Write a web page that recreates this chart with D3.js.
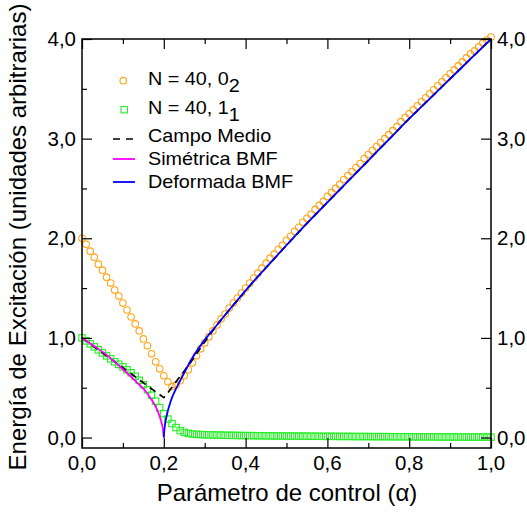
<!DOCTYPE html>
<html><head><meta charset="utf-8">
<script src="https://cdn.jsdelivr.net/npm/d3@7"></script>
<style>body{margin:0;background:#fff} svg{display:block} text{font-family:"Liberation Sans",Arial,sans-serif;fill:#000}</style>
</head><body><svg id="c" width="527" height="512"></svg>
<script>
// control parameter grid of the N = 40 calculations
const alphaN40 = [0.00,0.01,0.02,0.03,0.04,0.05,0.06,0.07,0.08,0.09,0.10,0.11,0.12,0.13,0.14,0.15,0.16,0.17,0.18,0.19,0.20,0.21,0.22,0.23,0.24,0.25,0.26,0.27,0.28,0.29,0.30,0.31,0.32,0.33,0.34,0.35,0.36,0.37,0.38,0.39,0.40,0.41,0.42,0.43,0.44,0.45,0.46,0.47,0.48,0.49,0.50,0.51,0.52,0.53,0.54,0.55,0.56,0.57,0.58,0.59,0.60,0.61,0.62,0.63,0.64,0.65,0.66,0.67,0.68,0.69,0.70,0.71,0.72,0.73,0.74,0.75,0.76,0.77,0.78,0.79,0.80,0.81,0.82,0.83,0.84,0.85,0.86,0.87,0.88,0.89,0.90,0.91,0.92,0.93,0.94,0.95,0.96,0.97,0.98,0.99,1.00];
// N = 40, state 0_2
const energy02 = [2.00,1.94,1.87,1.81,1.74,1.68,1.61,1.55,1.48,1.42,1.35,1.28,1.21,1.14,1.07,0.99,0.92,0.84,0.76,0.69,0.62,0.56,0.51,0.53,0.57,0.62,0.68,0.75,0.82,0.89,0.95,1.01,1.07,1.13,1.19,1.24,1.30,1.35,1.40,1.45,1.50,1.55,1.60,1.65,1.70,1.75,1.80,1.84,1.89,1.93,1.98,2.02,2.07,2.11,2.16,2.20,2.24,2.29,2.33,2.37,2.42,2.46,2.50,2.54,2.59,2.63,2.67,2.71,2.75,2.80,2.84,2.88,2.92,2.96,3.00,3.04,3.08,3.12,3.17,3.21,3.25,3.29,3.33,3.37,3.41,3.45,3.49,3.53,3.57,3.61,3.65,3.69,3.73,3.77,3.81,3.85,3.88,3.92,3.96,3.99,4.02];
// N = 40, state 1_1
const energy11 = [1.000,0.970,0.940,0.910,0.880,0.850,0.820,0.790,0.760,0.735,0.710,0.680,0.650,0.615,0.575,0.530,0.480,0.425,0.365,0.300,0.240,0.185,0.140,0.100,0.070,0.052,0.042,0.036,0.032,0.030,0.028,0.027,0.026,0.025,0.024,0.023,0.022,0.022,0.021,0.020,0.020,0.019,0.019,0.018,0.018,0.017,0.017,0.016,0.016,0.016,0.015,0.015,0.015,0.014,0.014,0.014,0.013,0.013,0.013,0.012,0.012,0.012,0.012,0.011,0.011,0.011,0.011,0.010,0.010,0.010,0.010,0.009,0.009,0.009,0.009,0.009,0.008,0.008,0.008,0.008,0.008,0.007,0.007,0.007,0.007,0.007,0.007,0.006,0.006,0.006,0.006,0.006,0.006,0.005,0.005,0.005,0.005,0.005,0.005,0.005,0.004];
// Campo Medio
const mfAlpha  = [0,0.1,0.2,0.21,0.23,0.26,0.28,0.30,0.33,0.37,0.42,0.46,0.50,0.55,0.60,0.65,0.70,0.75,0.80,0.85,0.90,0.95,1.00];
const mfEnergy = [1.0,0.7,0.4,0.45,0.56,0.72,0.84,0.96,1.13,1.33,1.57,1.75,1.93,2.15,2.36,2.57,2.78,2.99,3.20,3.40,3.60,3.80,4.00];
// Simétrica BMF
const symAlpha  = [0,0.02,0.04,0.06,0.08,0.10,0.12,0.14,0.15,0.16,0.17,0.18,0.185,0.19,0.195,0.198,0.2];
const symEnergy = [1.0,0.945,0.89,0.83,0.76,0.685,0.61,0.53,0.49,0.44,0.38,0.31,0.265,0.21,0.14,0.08,0.0];
// Deformada BMF
const defAlpha  = [0.2,0.201,0.203,0.206,0.21,0.215,0.22,0.23,0.24,0.25,0.27,0.30,0.33,0.37,0.42,0.46,0.50,0.55,0.60,0.65,0.70,0.75,0.80,0.85,0.90,0.95,1.0];
const defEnergy = [0,0.06,0.13,0.20,0.27,0.34,0.40,0.49,0.57,0.65,0.80,0.98,1.13,1.33,1.57,1.75,1.93,2.15,2.36,2.57,2.78,2.99,3.20,3.40,3.60,3.80,4.00];
// ticks
const xMajor = [0,0.2,0.4,0.6,0.8,1.0];
const xMinor = [0.1,0.3,0.5,0.7,0.9];
const yMajor = [0,1,2,3,4];
const yMinor = [0.5,1.5,2.5,3.5];
const fmt = d => d3.format(".1f")(d).replace(".", ",");

const svg = d3.select("#c");
const L = 82, R = 491, T = 39, B = 448;
const x = d3.scaleLinear().domain([0,1]).range([L,R]);
const y = d3.scaleLinear().domain([-0.105,4]).range([B,T]);

const plot = svg.append("g");
const orange = "#FFA51A", green = "#22EE22";
plot.selectAll("circle.o").data(alphaN40).enter().append("circle")
  .attr("cx", (d)=>x(d)).attr("cy",(d,i)=>y(energy02[i])).attr("r",3.3)
  .attr("fill","none").attr("stroke",orange).attr("stroke-width",1.1);
plot.selectAll("rect.g").data(alphaN40).enter().append("rect")
  .attr("x",(d)=>x(d)-3.2).attr("y",(d,i)=>y(energy11[i])-3.2).attr("width",6.4).attr("height",6.4)
  .attr("fill","none").attr("stroke",green).attr("stroke-width",1.1);

const line = (xs, ys, curve) => d3.line().x((d,i)=>x(xs[i])).y((d,i)=>y(ys[i])).curve(curve)(xs);
plot.append("path").attr("d", line(mfAlpha, mfEnergy, d3.curveLinear))
  .attr("fill","none").attr("stroke","#000").attr("stroke-width",1.7).attr("stroke-dasharray","7,5");
plot.append("path").attr("d", line(symAlpha, symEnergy, d3.curveMonotoneX))
  .attr("fill","none").attr("stroke","#FF00FF").attr("stroke-width",1.8);
plot.append("path").attr("d", line(defAlpha, defEnergy, d3.curveMonotoneX))
  .attr("fill","none").attr("stroke","#0000FF").attr("stroke-width",1.8);

// frame
svg.append("rect").attr("x",L).attr("y",T).attr("width",R-L).attr("height",B-T)
  .attr("fill","none").attr("stroke","#000").attr("stroke-width",1.5);

// axes with inward ticks
const tickFont = "20.5px";
svg.append("g").attr("transform",`translate(0,${B})`)
  .call(d3.axisBottom(x).tickValues(xMajor).tickSizeInner(-10).tickSizeOuter(0).tickFormat(""));
svg.append("g").attr("transform",`translate(0,${B})`)
  .call(d3.axisBottom(x).tickValues(xMinor).tickSizeInner(-5).tickSizeOuter(0).tickFormat(""));
svg.append("g").attr("transform",`translate(0,${T})`)
  .call(d3.axisTop(x).tickValues(xMajor).tickSizeInner(-10).tickSizeOuter(0).tickFormat(""));
svg.append("g").attr("transform",`translate(0,${T})`)
  .call(d3.axisTop(x).tickValues(xMinor).tickSizeInner(-5).tickSizeOuter(0).tickFormat(""));
svg.append("g").attr("transform",`translate(${L},0)`)
  .call(d3.axisLeft(y).tickValues(yMajor).tickSizeInner(-10).tickSizeOuter(0).tickFormat(""));
svg.append("g").attr("transform",`translate(${L},0)`)
  .call(d3.axisLeft(y).tickValues(yMinor).tickSizeInner(-5).tickSizeOuter(0).tickFormat(""));
svg.append("g").attr("transform",`translate(${R},0)`)
  .call(d3.axisRight(y).tickValues(yMajor).tickSizeInner(-10).tickSizeOuter(0).tickFormat(""));
svg.append("g").attr("transform",`translate(${R},0)`)
  .call(d3.axisRight(y).tickValues(yMinor).tickSizeInner(-5).tickSizeOuter(0).tickFormat(""));
svg.selectAll(".domain").remove();
svg.selectAll(".tick line").attr("stroke","#000").attr("stroke-width",1.2);

// tick labels
svg.append("g").selectAll("text").data(xMajor).enter().append("text")
  .attr("x",d=>x(d)).attr("y",470).attr("text-anchor","middle").style("font-size",tickFont).text(fmt);
svg.append("g").selectAll("text").data(yMajor).enter().append("text")
  .attr("x",76).attr("y",d=>y(d)+7).attr("text-anchor","end").style("font-size",tickFont).text(fmt);
svg.append("g").selectAll("text").data(yMajor).enter().append("text")
  .attr("x",497).attr("y",d=>y(d)+7).attr("text-anchor","start").style("font-size",tickFont).text(fmt);

// axis titles
svg.append("text").attr("x",287).attr("y",501).attr("text-anchor","middle").style("font-size","24px")
  .text("Parámetro de control (α)");
svg.append("text").attr("transform","translate(26,237) rotate(-90)").attr("text-anchor","middle").style("font-size","24px")
  .text("Energía de Excitación (unidades arbitrarias)");

// legend
const lg = svg.append("g");
const legFont = "18px", tx = 148;
const legText = (yy) => lg.append("text").attr("transform",`translate(${tx},${yy}) scale(1.1,1)`).style("font-size",legFont);
lg.append("circle").attr("cx",123.3).attr("cy",80.7).attr("r",3.3).attr("fill","none").attr("stroke",orange).attr("stroke-width",1.1);
let t1 = legText(85);
t1.append("tspan").text("N = 40, 0");
t1.append("tspan").attr("dy",7).text("2");
lg.append("rect").attr("x",121).attr("y",106.5).attr("width",6.4).attr("height",6.4).attr("fill","none").attr("stroke",green).attr("stroke-width",1.1);
let t2 = legText(114);
t2.append("tspan").text("N = 40, 1");
t2.append("tspan").attr("dy",7).text("1");
lg.append("line").attr("x1",113).attr("x2",135).attr("y1",139).attr("y2",139).attr("stroke","#000").attr("stroke-width",1.7).attr("stroke-dasharray","7,6");
legText(141.7).text("Campo Medio");
lg.append("line").attr("x1",113).attr("x2",135).attr("y1",159).attr("y2",159).attr("stroke","#FF00FF").attr("stroke-width",1.8);
legText(165).text("Simétrica BMF");
lg.append("line").attr("x1",113).attr("x2",135).attr("y1",182).attr("y2",182).attr("stroke","#0000FF").attr("stroke-width",1.8);
legText(187.7).text("Deformada BMF");
</script></body></html>
